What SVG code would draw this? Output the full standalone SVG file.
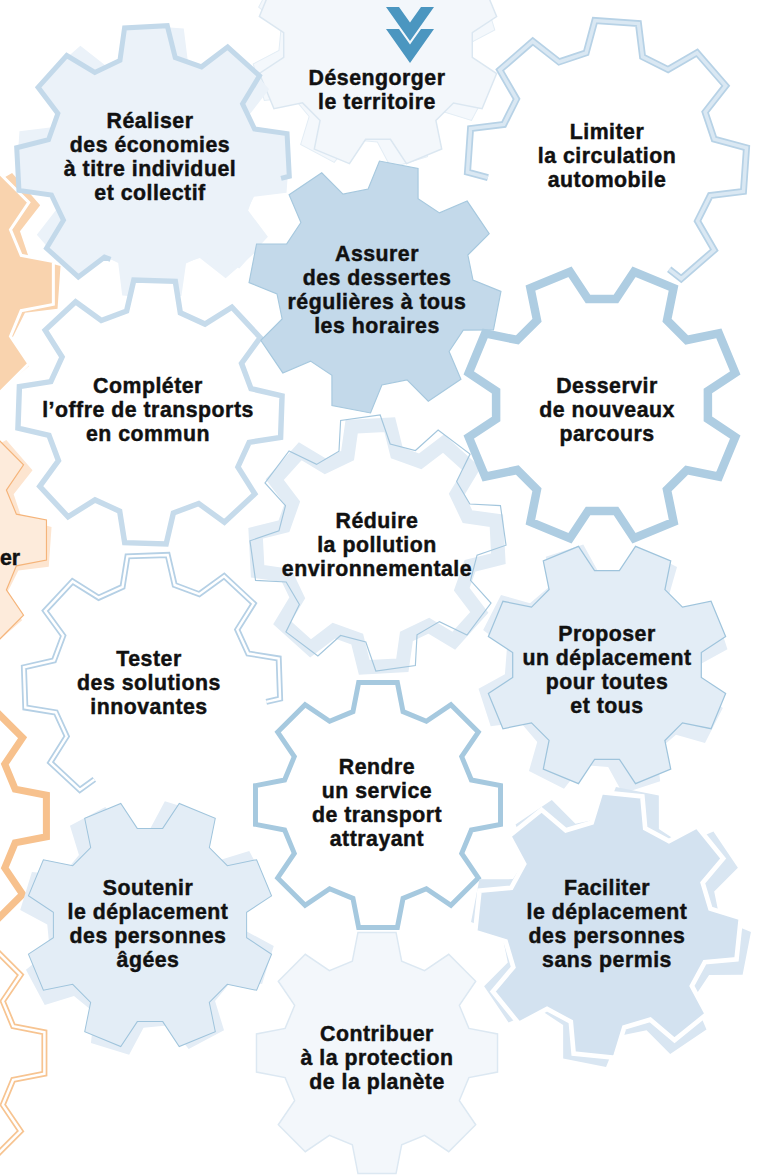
<svg xmlns="http://www.w3.org/2000/svg" width="764" height="1176" viewBox="0 0 764 1176">
<style>
text { font-family: "Liberation Sans", Arial, sans-serif; font-weight: 700; font-size: 21.3px; letter-spacing: 0.5px; fill: #111111; stroke: #111111; stroke-width: 0.45px; text-anchor: middle; }
.chev { fill: #4b96c0; }
</style>
<defs>
<path id="g8" pathLength="100" d="M98.8,-15.6 L98.8,15.6 L75.3,20.2 L67.5,39 L80.9,58.8 L58.8,80.9 L39,67.5 L20.2,75.3 L15.6,98.8 L-15.6,98.8 L-20.2,75.3 L-39,67.5 L-58.8,80.9 L-80.9,58.8 L-67.5,39 L-75.3,20.2 L-98.8,15.6 L-98.8,-15.6 L-75.3,-20.2 L-67.5,-39 L-80.9,-58.8 L-58.8,-80.9 L-39,-67.5 L-20.2,-75.3 L-15.6,-98.8 L15.6,-98.8 L20.2,-75.3 L39,-67.5 L58.8,-80.9 L80.9,-58.8 L67.5,-39 L75.3,-20.2 Z"/>
</defs>
<rect width="764" height="1176" fill="#ffffff"/>

<g id="orange-gears">
  <use href="#g8" transform="translate(-76,278) rotate(4) scale(1.37)" fill="#f9d3ae"/>
  <use href="#g8" transform="translate(-82,283) scale(1.37)" fill="#f9d3ae" stroke="#ffffff" stroke-width="2.2"/>
  <use href="#g8" transform="translate(-76,538) rotate(4) scale(1.28)" fill="#fde5d0"/>
  <use href="#g8" transform="translate(-80,540) scale(1.28)" fill="#fdebdb" stroke="#f5b47a" stroke-width="0.9"/>
  <text x="0" y="565" style="text-anchor:start;letter-spacing:0">er</text>
  <use href="#g8" transform="translate(-85,816) scale(1.33)" fill="none" stroke="#f7c18d" stroke-width="5.3"/>
  <use href="#g8" transform="translate(-87,1053) scale(1.33)" fill="none" stroke="#f7c491" stroke-width="4.5"/>
  <use href="#g8" transform="translate(-87,1053) scale(1.33)" fill="none" stroke="#ffffff" stroke-width="1.9"/>
</g>

<g id="node-desengorger">
  <use href="#g8" transform="translate(374,47) rotate(28) scale(1.22)" fill="#f4f8fc" stroke="#e3edf5" stroke-width="0.8"/>
  <use href="#g8" transform="translate(378,45) rotate(22.5) scale(1.22)" fill="#f3f7fb" stroke="#dbe7f1" stroke-width="1.2"/>
  <polygon class="chev" points="386,7 399,7 410,22.6 421,7 434,7 410,41"/>
  <polygon class="chev" points="386,28.9 399,28.9 410,44.5 421,28.9 434,28.9 410,62.9"/>
  <text x="377" y="85">Désengorger</text>
  <text x="377" y="109">le territoire</text>
</g>

<g id="node-realiser">
  <use href="#g8" transform="translate(153,162) rotate(4) scale(1.37)" fill="#ebf2f9"/>
  <use href="#g8" transform="translate(153,162) rotate(-3) scale(1.37)" fill="#ebf2f9" stroke="#c3d9ea" stroke-width="3.65" stroke-dasharray="4.7 29.2 66.1"/>
  <text x="150" y="128">Réaliser</text>
  <text x="150" y="152">des économies</text>
  <text x="150" y="176">à titre individuel</text>
  <text x="150" y="200">et collectif</text>
</g>

<g id="node-limiter">
  <use href="#g8" transform="translate(607,160) rotate(4) scale(1.4)" fill="#ffffff" stroke="#b7d2e6" stroke-width="5" stroke-dasharray="17.8 30.3 51.9"/>
  <use href="#g8" transform="translate(607,160) rotate(4) scale(1.4)" fill="none" stroke="#dae8f3" stroke-width="2.5" stroke-dasharray="17.8 30.3 51.9"/>
  <text x="607" y="139">Limiter</text>
  <text x="607" y="163">la circulation</text>
  <text x="607" y="187">automobile</text>
</g>

<g id="node-completer">
  <use href="#g8" transform="translate(150,412) rotate(2) scale(1.33)" fill="#ffffff" stroke="#c6dbeb" stroke-width="4.1"/>
  <text x="148" y="393">Compléter</text>
  <text x="148" y="417">l’offre de transports</text>
  <text x="148" y="441">en commun</text>
</g>

<g id="node-assurer">
  <use href="#g8" transform="translate(375,287) rotate(11) scale(1.26)" fill="#c3d9ea" stroke="#a6c8de" stroke-width="0.9"/>
  <text x="377" y="261">Assurer</text>
  <text x="377" y="285">des dessertes</text>
  <text x="377" y="309">régulières à tous</text>
  <text x="377" y="333">les horaires</text>
</g>

<g id="node-reduire">
  <use href="#g8" transform="translate(377,546) rotate(-3) scale(1.22)" fill="#ffffff" stroke="#e2ecf5" stroke-width="11.5"/>
  <use href="#g8" transform="translate(378,543) rotate(-8) scale(1.28)" fill="none" stroke="#a3c6dd" stroke-width="0.9"/>
  <text x="377" y="528">Réduire</text>
  <text x="377" y="552">la pollution</text>
  <text x="377" y="576">environnementale</text>
</g>

<g id="node-proposer">
  <use href="#g8" transform="translate(603,669) rotate(27) scale(1.26)" fill="#e4edf6"/>
  <use href="#g8" transform="translate(607,665) rotate(22.5) scale(1.22)" fill="#e3edf6" stroke="#9fc4dc" stroke-width="1"/>
  <text x="607" y="641">Proposer</text>
  <text x="607" y="665">un déplacement</text>
  <text x="607" y="689">pour toutes</text>
  <text x="607" y="713">et tous</text>
</g>

<g id="node-desservir">
  <use href="#g8" transform="translate(602,405) rotate(22.5) scale(1.37)" fill="#ffffff" stroke="#aecde2" stroke-width="6.2"/>
  <text x="607" y="393">Desservir</text>
  <text x="607" y="417">de nouveaux</text>
  <text x="607" y="441">parcours</text>
</g>

<g id="node-tester">
  <use href="#g8" transform="translate(152,683) rotate(-2) scale(1.29)" fill="#ffffff" stroke="#b5d0e5" stroke-width="4.65" stroke-dasharray="5.3 30.45 64.25"/>
  <use href="#g8" transform="translate(152,683) rotate(-2) scale(1.29)" fill="none" stroke="#ffffff" stroke-width="1.9" stroke-dasharray="5.3 30.45 64.25"/>
  <text x="149" y="666">Tester</text>
  <text x="149" y="690">des solutions</text>
  <text x="149" y="714">innovantes</text>
</g>

<g id="node-rendre">
  <use href="#g8" transform="translate(378,805) scale(1.24)" fill="#ffffff" stroke="#a6c9df" stroke-width="4"/>
  <text x="377" y="774">Rendre</text>
  <text x="377" y="798">un service</text>
  <text x="377" y="822">de transport</text>
  <text x="377" y="846">attrayant</text>
</g>

<g id="node-soutenir">
  <use href="#g8" transform="translate(147,928) rotate(17) scale(1.28)" fill="#e4edf6"/>
  <use href="#g8" transform="translate(150,925) rotate(22.5) scale(1.25)" fill="#e3edf6" stroke="#9fc4dc" stroke-width="0.8"/>
  <text x="148" y="895">Soutenir</text>
  <text x="148" y="919">le déplacement</text>
  <text x="148" y="943">des personnes</text>
  <text x="148" y="967">âgées</text>
</g>

<g id="node-contribuer">
  <use href="#g8" transform="translate(377,1053) scale(1.22)" fill="#f3f7fb" stroke="#dce8f2" stroke-width="1.2"/>
  <text x="377" y="1041">Contribuer</text>
  <text x="377" y="1065">à la protection</text>
  <text x="377" y="1089">de la planète</text>
</g>

<g id="node-faciliter">
  <use href="#g8" transform="translate(611,927) rotate(11) scale(1.4)" fill="#d9e6f2"/>
  <use href="#g8" transform="translate(608,925) rotate(6) scale(1.33)" fill="#d3e2f0" stroke="#ffffff" stroke-width="3.5"/>
  <text x="607" y="895">Faciliter</text>
  <text x="607" y="919">le déplacement</text>
  <text x="607" y="943">des personnes</text>
  <text x="607" y="967">sans permis</text>
</g>
</svg>
